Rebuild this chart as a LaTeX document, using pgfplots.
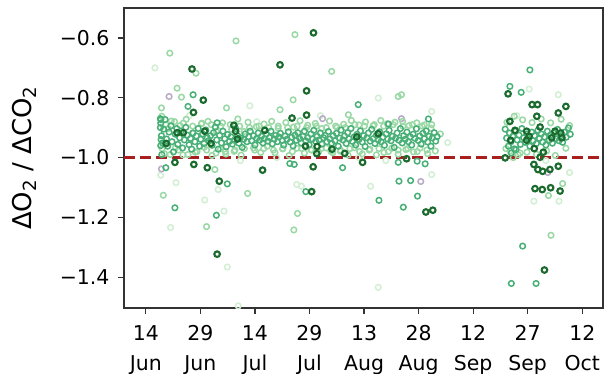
\documentclass[border=0pt]{standalone}
\usepackage{fontspec}
\setmainfont{DejaVu Sans}
\usepackage{pgfplots}
\pgfplotsset{compat=1.18}
\definecolor{cD}{HTML}{1B6B2E}
\definecolor{cM}{HTML}{48B077}
\definecolor{cL}{HTML}{9AD8A6}
\definecolor{cVL}{HTML}{D2EFD4}
\definecolor{cP}{HTML}{B8ABC6}
\definecolor{cR}{HTML}{A81F22}
\begin{document}
\begin{tikzpicture}
\useasboundingbox (-124bp,-66bp) rectangle (481bp,308bp);
\begin{axis}[
  at={(0,0)}, anchor=south west,
  width=479bp, height=300bp, scale only axis,
  xmin=-6, xmax=125.7, ymin=-1.503, ymax=-0.5,
  axis line style={line width=1.2bp, black!80},
  tick style={line width=1.2bp, black!80},
  tick align=outside, major tick length=6bp,
  xtick pos=bottom, ytick pos=left,
  xtick={0,15,30,45,60,75,90,105,120},
  xticklabels={{14\\Jun},{29\\Jun},{14\\Jul},{29\\Jul},{13\\Aug},{28\\Aug},{12\\Sep},{27\\Sep},{12\\Oct}},
  xticklabel style={align=center, font=\fontsize{20.5}{30}\selectfont, yshift=-8bp},
  ytick={-1.4,-1.2,-1.0,-0.8,-0.6},
  yticklabels={−1.4,−1.2,−1.0,−0.8,−0.6},
  yticklabel style={font=\fontsize{20.5}{24}\selectfont, xshift=-5bp},
  every axis y label/.style={at={(axis description cs:-0.207,0.5)}, rotate=90, anchor=center, font=\fontsize{26}{30}\selectfont},
  ylabel={ΔO\textsubscript{2} / ΔCO\textsubscript{2}},
  every axis plot/.append style={only marks, mark=o, mark size=2.8bp},
]
% very light
\addplot[cVL, mark options={line width=1.5bp}] coordinates {
(22.4,-1.366) (21.5,-1.179) (6.8,-1.234) (16.2,-1.142) (19.9,-1.107) (4.1,-1.059) (8.3,-1.084)
(41.5,-1.09) (42.8,-1.096) (61.8,-1.096) (78.6,-1.057) (63.9,-1.434) (25.4,-1.496)
(106.7,-1.146) (113.6,-1.146) (78.6,-0.846) (28.6,-0.827) (63.9,-0.801) (113.4,-0.79) (105.4,-0.771)
(2.5,-0.70) (30.5,-0.88) (58.5,-1.00) (83.0,-0.95) (110.0,-1.01) (116.5,-1.05) (36.0,-1.00)
(12.0,-0.86) (26.0,-1.01) (48.0,-0.86) (66.0,-1.01) (102.0,-0.86)
};
% purple-grey
\addplot[cP, mark options={line width=1.5bp}] coordinates {
(6.4,-0.796) (48.6,-0.87) (70.3,-0.87) (75.6,-1.08) (4.3,-1.038) (110.5,-1.05)
};
% light
\addplot[cL, mark options={line width=1.5bp}] coordinates {
(6.6,-0.651) (24.8,-0.61) (41.0,-0.589) (51.1,-0.712) (8.6,-0.768) (9.8,-0.798) (4.3,-0.834)
(22.2,-0.834) (40.5,-0.807) (36.9,-0.84) (55.7,-0.857) (69.4,-0.796) (70.3,-0.79) (13.8,-0.718)
(4.8,-1.126) (16.7,-1.231) (28.0,-1.12) (41.7,-1.187) (40.7,-1.242) (19.0,-1.04)
(114.6,-1.087) (110.7,-1.127) (111.4,-1.26) (102.9,-0.985)
(4.4,-0.862) (5.1,-0.987) (6.2,-0.903) (7.0,-0.878) (8.1,-0.968) (9.4,-0.893) (10.2,-0.991) (11.1,-0.872)
(12.8,-0.918) (13.6,-0.982) (15.3,-0.887) (16.0,-0.966) (17.1,-0.879) (18.2,-0.993) (19.4,-0.912) (20.5,-0.971)
(21.1,-0.884) (22.0,-0.988) (23.6,-0.906) (24.3,-0.979) (25.3,-0.871) (26.2,-0.992) (27.0,-0.913) (28.1,-0.882)
(29.6,-0.968) (30.4,-0.897) (31.6,-0.983) (32.5,-0.888) (33.4,-0.962) (34.6,-0.879) (35.5,-0.984) (36.4,-0.902)
(37.6,-0.971) (38.5,-0.883) (39.4,-0.993) (40.6,-0.898) (41.5,-0.969) (42.4,-0.877) (43.6,-0.985) (44.5,-0.892)
(45.4,-0.974) (46.6,-0.886) (47.5,-0.981) (48.4,-0.903) (49.6,-0.968) (50.5,-0.878) (51.4,-0.984) (52.6,-0.899)
(53.5,-0.979) (54.4,-0.889) (55.6,-0.992) (56.5,-0.876) (57.4,-0.967) (58.6,-0.891) (59.5,-0.988) (60.4,-0.881)
(61.6,-0.972) (62.5,-0.894) (63.4,-0.991) (64.6,-0.876) (65.5,-0.983) (66.4,-0.887) (67.6,-0.969) (68.5,-0.882)
(69.4,-0.989) (70.6,-0.879) (71.5,-0.973) (72.4,-0.893) (73.6,-0.981) (74.5,-0.884) (75.4,-0.968) (76.6,-0.891)
(77.5,-0.987) (78.4,-0.902) (79.6,-0.978) (81.0,-0.921)
(99.3,-0.882) (100.2,-0.978) (101.3,-0.862) (102.4,-0.991) (103.6,-0.874) (104.8,-0.982) (106.2,-0.883)
(107.4,-0.989) (108.7,-0.871) (110.2,-0.978) (111.3,-0.884) (112.6,-0.993) (114.2,-0.872) (115.5,-0.969) (116.5,-0.893)
(99.0,-0.97) (101.0,-1.00)
(4.5,-0.970) (5.5,-0.890) (6.7,-0.990) (7.9,-0.880) (9.0,-0.975) (10.3,-0.885) (11.6,-0.990) (12.9,-0.895)
(14.1,-0.980) (15.4,-0.885) (16.7,-0.975) (18.0,-0.890) (19.3,-0.985) (20.6,-0.895) (21.9,-0.980) (23.2,-0.890)
(24.5,-0.975) (25.8,-0.895) (27.1,-0.970) (28.5,-0.900) (29.9,-0.975) (31.1,-0.895) (32.4,-0.970) (33.8,-0.900)
(35.1,-0.975) (36.4,-0.895) (37.7,-0.970) (39.0,-0.900) (40.3,-0.980) (41.6,-0.895) (42.9,-0.970) (44.2,-0.900)
(45.6,-0.975) (46.9,-0.895) (48.2,-0.970) (49.6,-0.900) (50.9,-0.980) (52.2,-0.895) (53.5,-0.975) (54.8,-0.900)
(56.1,-0.970) (57.5,-0.890) (58.8,-0.980) (60.1,-0.895) (61.4,-0.975) (62.8,-0.890) (64.1,-0.970) (65.4,-0.895)
(66.7,-0.980) (68.0,-0.890) (69.4,-0.975) (70.7,-0.895) (72.0,-0.970) (73.3,-0.890) (74.6,-0.980) (76.0,-0.895)
(77.3,-0.975) (78.6,-0.890)
};
% medium
\addplot[cM, mark options={line width=1.5bp}] coordinates {
(13.0,-0.79) (11.6,-0.829) (4.1,-0.873) (19.6,-0.884) (58.4,-0.823) (77.7,-0.871) (66.7,-0.888)
(105.6,-0.707) (100.1,-0.762) (103.2,-0.782) (54.1,-1.034) (64.1,-1.143) (69.6,-1.079) (72.8,-1.077)
(74.7,-1.129) (70.8,-1.166) (69.4,-1.016) (76.8,-1.021) (74.6,-1.012) (22.4,-1.088) (19.4,-1.193)
(8.0,-1.168) (5.5,-1.034) (39.6,-1.02) (40.8,-1.023) (44.0,-1.114) (103.6,-1.296) (100.5,-1.421)
(107.3,-1.421) (100.5,-0.985) (101.8,-0.973)
(4.0,-0.87) (4.0,-0.90) (4.2,-0.94) (4.1,-0.96) (4.4,-0.99)
(4.1,-0.885) (4.3,-0.927) (4.6,-0.951) (4.9,-0.905) (5.3,-0.873) (5.7,-0.938) (6.0,-0.962) (6.4,-0.915)
(6.9,-0.894) (7.2,-0.947) (7.6,-0.981) (8.1,-0.922) (8.5,-0.903) (8.8,-0.956) (9.3,-0.934) (9.7,-0.912)
(10.1,-0.968) (10.6,-0.941) (11.0,-0.899) (11.4,-0.925) (11.9,-0.957) (12.3,-0.936) (12.6,-0.972) (13.0,-0.918)
(13.5,-0.947) (13.9,-0.928) (14.4,-0.903) (14.8,-0.962) (15.1,-0.939) (15.6,-0.921) (16.0,-0.953) (16.5,-0.908)
(16.9,-0.934) (17.3,-0.944) (17.8,-0.927) (18.2,-0.959) (18.6,-0.917) (19.1,-0.898) (19.5,-0.941) (19.9,-0.972)
(20.3,-0.926) (20.8,-0.951) (21.2,-0.912) (21.7,-0.937) (22.1,-0.964) (22.5,-0.923) (23.0,-0.946) (23.4,-0.931)
(23.8,-0.955) (24.3,-0.942) (24.7,-0.903) (25.2,-0.927) (25.6,-0.952) (26.0,-0.934) (26.5,-0.966) (26.9,-0.939)
(27.3,-0.921) (27.8,-0.947) (28.3,-0.931) (28.7,-0.912) (29.1,-0.944) (29.6,-0.927) (30.0,-0.958) (30.5,-0.936)
(30.9,-0.918) (31.3,-0.942) (31.8,-0.929) (32.2,-0.951) (32.6,-0.937) (33.1,-0.921) (33.5,-0.945) (34.0,-0.933)
(34.4,-0.912) (34.8,-0.954) (35.3,-0.938) (35.7,-0.926) (36.2,-0.947) (36.6,-0.931) (37.0,-0.919) (37.5,-0.943)
(37.9,-0.958) (38.3,-0.928) (38.8,-0.939) (39.2,-0.914) (39.7,-0.948) (40.1,-0.932) (40.5,-0.961) (41.0,-0.925)
(41.4,-0.942) (41.8,-0.917) (42.3,-0.936) (42.7,-0.951) (43.2,-0.929) (43.6,-0.912) (44.0,-0.944) (44.5,-0.933)
(44.9,-0.957) (45.4,-0.921) (45.8,-0.938) (46.2,-0.909) (46.7,-0.946) (47.1,-0.929) (47.6,-0.941) (48.0,-0.918)
(48.4,-0.955) (48.9,-0.934) (49.3,-0.926) (49.8,-0.947) (50.2,-0.913) (50.6,-0.938) (51.1,-0.952) (51.5,-0.927)
(52.0,-0.944) (52.4,-0.919) (52.9,-0.962) (53.3,-0.935) (53.7,-0.908) (54.2,-0.941) (54.6,-0.928) (55.1,-0.953)
(55.5,-0.917) (55.9,-0.937) (56.4,-0.903) (56.8,-0.946) (57.3,-0.931) (57.7,-0.958) (58.1,-0.922) (58.6,-0.939)
(59.0,-0.911) (59.5,-0.948) (59.9,-0.927) (60.3,-0.963) (60.8,-0.934) (61.2,-0.918) (61.7,-0.945) (62.1,-0.906)
(62.5,-0.937) (63.0,-0.953) (63.4,-0.926) (63.9,-0.941) (64.3,-0.914) (64.7,-0.947) (65.2,-0.932) (65.6,-0.959)
(66.1,-0.921) (66.5,-0.938) (66.9,-0.909) (67.4,-0.944) (67.8,-0.929) (68.3,-0.966) (68.7,-0.935) (69.1,-0.918)
(69.6,-0.942) (70.0,-0.903) (70.5,-0.951) (70.9,-0.927) (71.3,-0.939) (71.8,-0.915) (72.2,-0.947) (72.7,-0.931)
(73.1,-0.958) (73.5,-0.922) (74.0,-0.936) (74.4,-0.904) (74.9,-0.943) (75.3,-0.928) (75.7,-0.955) (76.2,-0.919)
(76.6,-0.937) (77.1,-0.911) (77.5,-0.948) (77.9,-0.929) (78.4,-0.962) (78.8,-0.934) (79.3,-0.917) (79.7,-0.945) (80.1,-0.930)
(98.8,-0.905) (99.2,-0.935) (99.7,-0.962) (100.0,-0.918) (100.4,-0.947) (100.9,-0.929) (101.3,-0.971) (101.7,-0.912)
(102.1,-0.941) (102.6,-0.925) (103.0,-0.956) (103.4,-0.903) (103.9,-0.934) (104.3,-0.949) (104.8,-0.921) (105.2,-0.938)
(105.6,-0.962) (106.1,-0.915) (106.5,-0.944) (106.9,-0.927) (107.4,-0.953) (107.8,-0.909) (108.2,-0.936) (108.7,-0.921)
(109.1,-0.948) (109.6,-0.931) (110.0,-0.958) (110.4,-0.912) (110.9,-0.941) (111.3,-0.925) (111.8,-0.952) (112.2,-0.918)
(112.7,-0.937) (113.2,-0.906) (113.6,-0.944) (114.1,-0.927) (114.6,-0.949) (115.1,-0.915) (115.6,-0.932) (116.2,-0.901) (116.7,-0.922)
};
% dark
\addplot[cD, mark options={line width=2.1bp}] coordinates {
(12.7,-0.704) (46.1,-0.583) (36.9,-0.690) (44.2,-0.777) (15.8,-0.808) (13.1,-0.849) (40.2,-0.868)
(44.2,-0.858) (8.6,-0.917) (10.3,-0.917) (5.6,-0.953) (16.2,-0.912) (17.9,-0.953) (24.2,-0.892)
(24.7,-0.912) (25.2,-0.938) (32.7,-0.909) (43.9,-0.962) (47.1,-0.963) (51.2,-0.972) (54.7,-0.986)
(47.0,-0.987) (63.9,-0.920) (58.0,-0.931) (59.6,-1.016) (71.7,-1.004) (77.0,-1.182) (78.9,-1.176)
(8.0,-1.016) (13.2,-1.023) (16.9,-1.034) (20.2,-1.079) (19.6,-1.323) (32.1,-1.042) (45.6,-1.114)
(46.0,-1.031)
(99.6,-0.787) (106.2,-0.823) (107.7,-0.823) (115.5,-0.829) (113.4,-0.851) (107.5,-0.862) (100.1,-0.879)
(108.4,-0.898) (101.5,-0.909) (104.7,-0.912) (112.5,-0.912) (114.1,-0.918) (111.6,-0.934) (114.4,-0.934)
(100.3,-0.942) (104.7,-0.942) (105.4,-0.929) (106.8,-0.970) (109.3,-0.982) (98.8,-1.001) (108.4,-0.999)
(106.7,-1.023) (107.8,-1.040) (109.1,-1.046) (111.1,-1.040) (113.4,-1.029) (107.0,-1.104) (109.0,-1.107)
(111.3,-1.101) (113.9,-1.112) (109.6,-1.376)
};
\addplot[cR, no marks, sharp plot, line width=3bp, dash pattern=on 11bp off 5bp] coordinates {(-6,-1.0) (125.7,-1.0)};
\end{axis}
\end{tikzpicture}
\end{document}
